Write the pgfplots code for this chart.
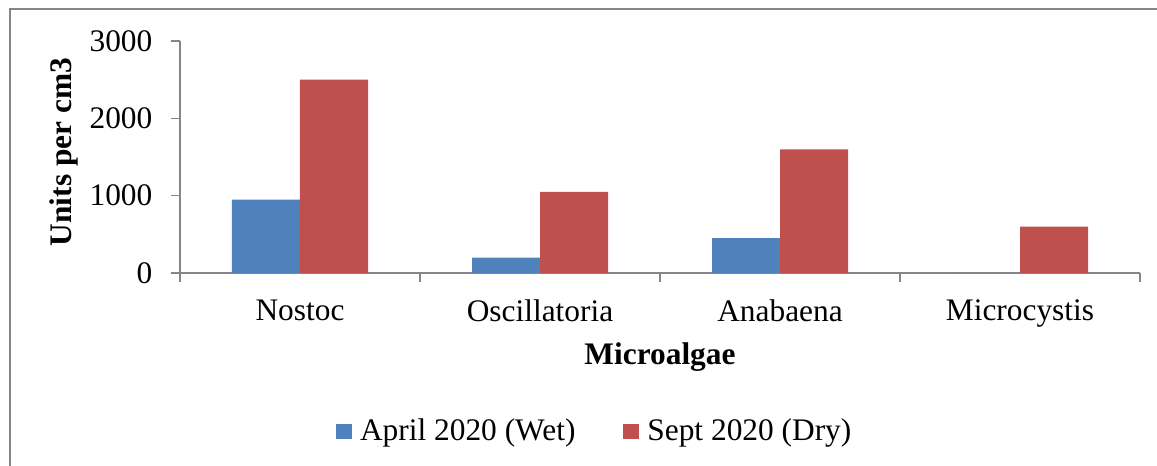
\documentclass[border=0pt]{standalone}
\usepackage{fontspec}
\setmainfont{Liberation Serif}
\usepackage{pgfplots}
\pgfplotsset{compat=1.18}
\definecolor{cblue}{RGB}{79,129,189}
\definecolor{cred}{RGB}{192,80,77}
\definecolor{axgray}{RGB}{134,134,134}
\begin{document}
\fontsize{31.5}{36}\selectfont
\begin{tikzpicture}
\useasboundingbox (-180bp,-193bp) rectangle (977bp,273bp);
\draw[axgray, line width=1.5bp] (-170bp,-200bp) -- (-170bp,264bp) -- (990bp,264bp);
\begin{axis}[
  at={(0,0)}, anchor=south west,
  scale only axis, width=960bp, height=232bp,
  xmin=-0.5, xmax=3.5, ymin=0, ymax=3000,
  ybar=0pt, bar width=68bp,
  axis x line=bottom, axis y line=left,
  axis line style={axgray, line width=1.2bp, -},
  tick style={axgray, line width=1.2bp},
  tick align=outside, major tick length=9bp,
  xtick={-0.5,0.5,1.5,2.5,3.5}, xticklabels={,,,,},
  extra x ticks={0,1,2,3},
  extra x tick labels={Nostoc,Oscillatoria,Anabaena,Microcystis},
  extra x tick style={major tick length=0pt},
  xticklabel style={yshift=-16bp},
  ytick={0,1000,2000,3000},
  yticklabel style={xshift=-8bp},
  /pgf/number format/assume math mode=true,
  /pgf/number format/1000 sep={},
  ticklabel style={font=\fontsize{31.5}{36}\selectfont},
  xlabel={\textbf{Microalgae}},
  ylabel={\textbf{Units per cm3}},
  xlabel style={at={(axis description cs:0.5,0)}, anchor=center, yshift=-84bp},
  ylabel style={at={(axis description cs:0,0.5)}, anchor=center, yshift=116bp, xshift=5bp},
  legend style={at={(axis description cs:0.432,-0.685)}, anchor=center, draw=none,
    legend columns=2, font=\fontsize{31.5}{36}\selectfont,
    /tikz/every even column/.append style={column sep=46bp}},
]
\addplot[fill=cblue, draw=none,
  legend image code/.code={\fill[cblue] (0bp,-7.5bp) rectangle (16bp,7.5bp); \path (22bp,0bp);}]
  coordinates {(0,950) (1,200) (2,450) (3,0)};
\addlegendentry{April 2020 (Wet)}
\addplot[fill=cred, draw=none,
  legend image code/.code={\fill[cred] (0bp,-7.5bp) rectangle (16bp,7.5bp); \path (22bp,0bp);}]
  coordinates {(0,2500) (1,1050) (2,1600) (3,600)};
\addlegendentry{Sept 2020 (Dry)}
\end{axis}
\end{tikzpicture}
\end{document}
